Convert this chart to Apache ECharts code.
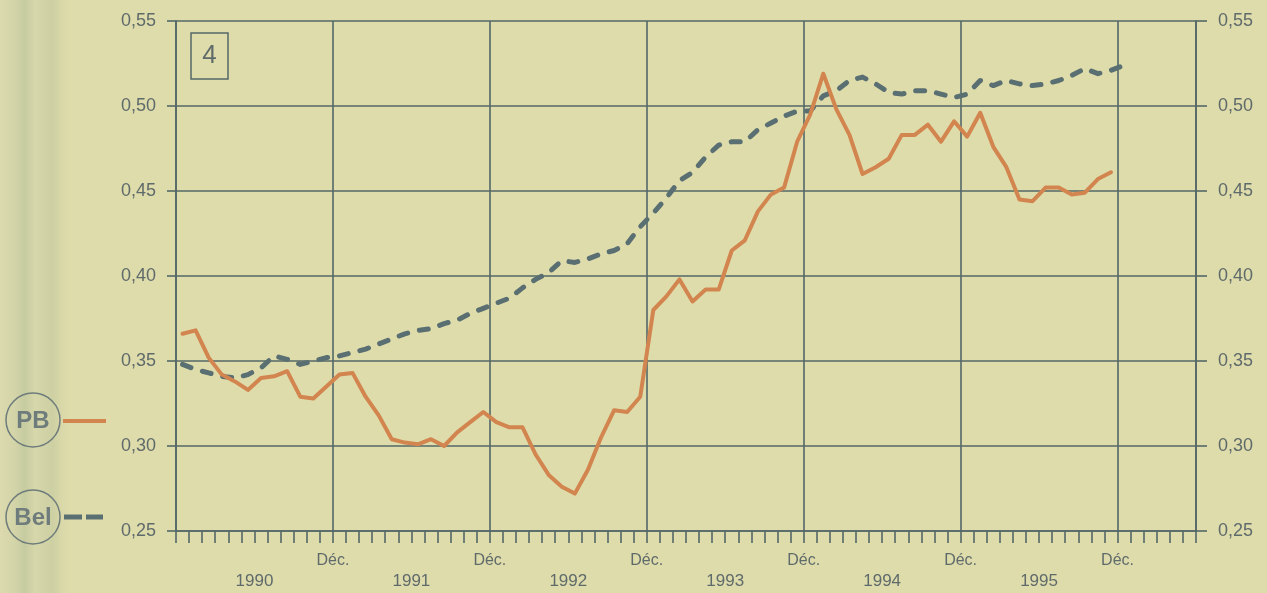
<!DOCTYPE html>
<html>
<head>
<meta charset="utf-8">
<script src="https://cdn.jsdelivr.net/npm/echarts@6/dist/echarts.min.js"></script>
<style>
html,body{margin:0;padding:0;background:#dfdcab;}
#chart{width:1267px;height:593px;}
</style>
</head>
<body>
<div id="chart"></div>
<script>
// Months Jan 1990 .. Jun 1996 (one band per month)
const yearNames = ['1990','1991','1992','1993','1994','1995','1996'];
const monthNums = ['01','02','03','04','05','06','07','08','09','10','11','12'];
const categories = yearNames.flatMap(y => monthNums.map(m => y + '-' + m)).slice(0, 78);

// Bottom labels
const decLabel = 'Déc.';
const yearLabels = ['1990','1991','1992','1993','1994','1995'];

// Series values
const pbValues = [
  0.366,0.368,0.352,0.342,0.338,0.333,0.340,0.341,0.344,0.329,0.328,0.335,
  0.342,0.343,0.329,0.318,0.304,0.302,0.301,0.304,0.300,0.308,0.314,0.320,
  0.314,0.311,0.311,0.295,0.283,0.276,0.272,0.286,0.305,0.321,0.320,0.329,
  0.380,0.388,0.398,0.385,0.392,0.392,0.415,0.421,0.438,0.448,0.452,0.479,
  0.495,0.519,0.498,0.483,0.460,0.464,0.469,0.483,0.483,0.489,0.479,0.491,
  0.482,0.496,0.476,0.464,0.445,0.444,0.452,0.452,0.448,0.449,0.457,0.461
];
const belValues = [
  0.348,0.345,0.343,0.341,0.340,0.342,0.346,0.353,0.351,0.348,0.350,0.352,
  0.353,0.355,0.357,0.360,0.363,0.366,0.368,0.369,0.372,0.374,0.378,0.381,
  0.384,0.387,0.393,0.398,0.402,0.409,0.408,0.410,0.413,0.415,0.419,0.429,
  0.437,0.446,0.456,0.461,0.470,0.477,0.479,0.479,0.486,0.490,0.494,0.497,
  0.497,0.506,0.509,0.515,0.517,0.513,0.508,0.507,0.509,0.509,0.507,0.505,
  0.507,0.515,0.512,0.515,0.513,0.512,0.513,0.515,0.518,0.522,0.519,0.521,
  0.524
];

// Boundary labels (79 month boundaries)
const boundaryLabels = [];
for (let i = 0; i <= categories.length; i++) {
  if (i > 0 && i % 12 === 0 && i / 12 <= yearLabels.length) boundaryLabels.push('D' + i);
  else if (i % 12 === 6 && (i - 6) / 12 < yearLabels.length) boundaryLabels.push('Y' + i);
  else boundaryLabels.push('-' + i);
}

const gridColor = '#546868';
const textColor = '#5f6b6b';
const orange = '#d2854e';
const slate = '#5a6f71';
const fontFam = '"Liberation Sans", Arial, Helvetica, sans-serif';

const chart = echarts.init(document.getElementById('chart'), null, {renderer: 'canvas'});
const yFmt = v => v.toFixed(2).replace('.', ',');

chart.setOption({
  backgroundColor: '#dfdcab',
  animation: false,
  grid: {left: 176, right: 71, top: 21, bottom: 62, containLabel: false},
  xAxis: [
    {
      type: 'category', data: categories, boundaryGap: true, position: 'bottom',
      axisLine: {show: true, lineStyle: {color: gridColor, width: 1.6}},
      axisTick: {show: true, interval: 0, length: 12, lineStyle: {color: gridColor, width: 1.6}},
      axisLabel: {show: false},
      splitLine: {show: true, interval: 11, lineStyle: {color: gridColor, width: 1.6}}
    },
    {
      type: 'category', data: boundaryLabels, boundaryGap: false, position: 'bottom',
      axisLine: {show: false}, axisTick: {show: false}, splitLine: {show: false},
      axisLabel: {
        show: true, interval: 0, margin: 21,
        formatter: function (v) {
          const idx = parseInt(v.slice(1), 10);
          if (v[0] === 'D') return '{d|' + decLabel + '}';
          if (v[0] === 'Y') return '{y|' + yearLabels[(idx - 6) / 12] + '}';
          return '';
        },
        rich: {
          d: {fontSize: 16, color: textColor, fontFamily: fontFam, lineHeight: 18},
          y: {fontSize: 17, color: textColor, fontFamily: fontFam, lineHeight: 18, padding: [40, 0, 0, 0]}
        }
      }
    }
  ],
  yAxis: [
    {
      type: 'value', min: 0.25, max: 0.55, interval: 0.05, position: 'left',
      axisLine: {show: true, lineStyle: {color: gridColor, width: 1.6}},
      axisTick: {show: true, length: 9, lineStyle: {color: gridColor, width: 1.6}},
      axisLabel: {formatter: yFmt, color: textColor, fontSize: 18, fontFamily: fontFam, margin: 20},
      splitLine: {show: true, lineStyle: {color: gridColor, width: 1.6}}
    },
    {
      type: 'value', min: 0.25, max: 0.55, interval: 0.05, position: 'right',
      axisLine: {show: true, lineStyle: {color: gridColor, width: 1.6}},
      axisTick: {show: true, length: 11, lineStyle: {color: gridColor, width: 1.6}},
      axisLabel: {formatter: yFmt, color: textColor, fontSize: 18, fontFamily: fontFam, margin: 22},
      splitLine: {show: false}
    }
  ],
  series: [
    {
      name: 'Bel', type: 'line', xAxisIndex: 0, yAxisIndex: 0, data: belValues,
      symbol: 'none', smooth: false, z: 3,
      lineStyle: {color: slate, width: 5, type: [9, 12], cap: 'round', join: 'round'}
    },
    {
      name: 'PB', type: 'line', xAxisIndex: 0, yAxisIndex: 0, data: pbValues,
      symbol: 'none', smooth: false, z: 4,
      lineStyle: {color: orange, width: 4, join: 'round', cap: 'round'}
    }
  ],
  graphic: [
    {type: 'rect', z: -10, shape: {x: 0, y: 0, width: 70, height: 593},
     style: {fill: new echarts.graphic.LinearGradient(0, 0, 1, 0, [
       {offset: 0, color: '#dcdaae'}, {offset: 0.22, color: '#d2d4a8'},
       {offset: 0.35, color: '#c6cba0'}, {offset: 0.5, color: '#d6d7aa'},
       {offset: 0.75, color: '#cdd0a3'}, {offset: 0.88, color: '#d9d8a9'}, {offset: 1, color: '#dfdcab'}])}},
    // box "4"
    {type: 'rect', shape: {x: 191, y: 33, width: 37, height: 46},
     style: {fill: 'none', stroke: gridColor, lineWidth: 1.5}},
    {type: 'text', x: 209.5, y: 56, style: {text: '4', fill: textColor, font: '26px ' + fontFam, align: 'center', verticalAlign: 'middle'}},
    // legend PB
    {type: 'circle', shape: {cx: 33, cy: 420, r: 27}, style: {fill: 'none', stroke: '#6f7c7c', lineWidth: 1.5}},
    {type: 'text', x: 33, y: 421, style: {text: 'PB', fill: '#6f7c7c', font: 'bold 24px ' + fontFam, align: 'center', verticalAlign: 'middle'}},
    {type: 'line', shape: {x1: 63, y1: 421, x2: 106, y2: 421}, style: {stroke: orange, lineWidth: 4}},
    // legend Bel
    {type: 'circle', shape: {cx: 33, cy: 517, r: 27}, style: {fill: 'none', stroke: '#6f7c7c', lineWidth: 1.5}},
    {type: 'text', x: 33, y: 518, style: {text: 'Bel', fill: '#6f7c7c', font: 'bold 24px ' + fontFam, align: 'center', verticalAlign: 'middle'}},
    {type: 'line', shape: {x1: 64, y1: 517, x2: 82, y2: 517}, style: {stroke: slate, lineWidth: 5}},
    {type: 'line', shape: {x1: 86, y1: 517, x2: 103, y2: 517}, style: {stroke: slate, lineWidth: 5}}
  ]
});
</script>
</body>
</html>
